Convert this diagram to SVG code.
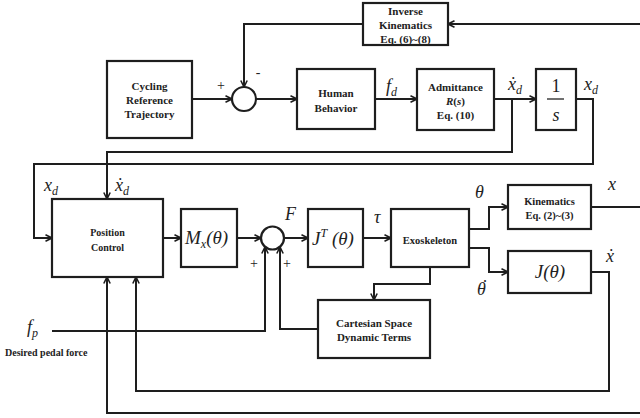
<svg xmlns="http://www.w3.org/2000/svg" width="640" height="418" viewBox="0 0 640 418">
<style>
.box{fill:#fff;stroke:#1e1e1e;stroke-width:2.2}
.ln{fill:none;stroke:#1e1e1e;stroke-width:2}
.bt{font-family:"Liberation Serif","DejaVu Serif",serif;font-weight:bold;font-size:11px;fill:#222;text-anchor:middle}
.sm{font-size:10px}
.m{font-family:"Liberation Serif","DejaVu Serif",serif;font-style:italic;font-size:18px;fill:#222}
.sub{font-size:12px}
.pl{font-family:"Liberation Serif","DejaVu Serif",serif;font-size:14px;fill:#222;text-anchor:middle}
</style>
<defs>
<marker id="ar" viewBox="0 0 8 8" refX="7.5" refY="4" markerWidth="8" markerHeight="8" markerUnits="userSpaceOnUse" orient="auto">
<path d="M1,0.8 L7.5,4 L1,7.2" fill="none" stroke="#1e1e1e" stroke-width="1.6"/>
</marker>
</defs>
<rect width="640" height="418" fill="#fff"/>

<g id="connectors">
<path class="ln" d="M192,99 H232" marker-end="url(#ar)"/>
<path class="ln" d="M363,24 H244 V87" marker-end="url(#ar)"/>
<path class="ln" d="M640,24 H448" marker-end="url(#ar)"/>
<path class="ln" d="M256,99 H297" marker-end="url(#ar)"/>
<path class="ln" d="M375,99 H417" marker-end="url(#ar)"/>
<path class="ln" d="M494,99 H536" marker-end="url(#ar)"/>
<path class="ln" d="M512,99 V152 H107 V199" marker-end="url(#ar)"/>
<path class="ln" d="M576,99 H593 V164 H34 V238 H52" marker-end="url(#ar)"/>
<path class="ln" d="M163,238 H181" marker-end="url(#ar)"/>
<path class="ln" d="M237,238 H261" marker-end="url(#ar)"/>
<path class="ln" d="M284,238 H308" marker-end="url(#ar)"/>
<path class="ln" d="M363,238 H391" marker-end="url(#ar)"/>
<path class="ln" d="M469,229 H489 V207 H508" marker-end="url(#ar)"/>
<path class="ln" d="M469,248 H489 V272 H508" marker-end="url(#ar)"/>
<path class="ln" d="M591,207 H640"/>
<path class="ln" d="M591,272 H609 V391 H136 V277" marker-end="url(#ar)"/>
<path class="ln" d="M640,413 H107 V277" marker-end="url(#ar)"/>
<path class="ln" d="M430,267 V284 H374 V300" marker-end="url(#ar)"/>
<path class="ln" d="M318,329 H280 V247" marker-end="url(#ar)"/>
<path class="ln" d="M52,331 H265 V247" marker-end="url(#ar)"/>
</g>

<g id="cycling">
<rect class="box" x="107" y="61" width="85" height="77"/>
<text class="bt" x="149.5" y="90">Cycling</text>
<text class="bt" x="149.5" y="104">Reference</text>
<text class="bt" x="149.5" y="118">Trajectory</text>
</g>

<g id="sum1">
<circle class="box" cx="244" cy="99" r="12"/>
<text class="pl" x="221" y="90">+</text>
<text class="pl" x="258" y="77">-</text>
</g>

<g id="inverse-kinematics">
<rect class="box" x="363" y="3" width="85" height="42"/>
<text class="bt" x="405.5" y="15">Inverse</text>
<text class="bt" x="405.5" y="29">Kinematics</text>
<text class="bt" x="405.5" y="43">Eq. (6)~(8)</text>
</g>

<g id="human">
<rect class="box" x="297" y="69" width="78" height="60"/>
<text class="bt" x="336" y="97">Human</text>
<text class="bt" x="336" y="112">Behavior</text>
</g>

<g id="admittance">
<rect class="box" x="417" y="69" width="77" height="61"/>
<text class="bt" x="455.5" y="91">Admittance</text>
<text class="bt" x="455.5" y="105"><tspan font-style="italic">R</tspan>(<tspan font-style="italic">s</tspan>)</text>
<text class="bt" x="455.5" y="119">Eq. (10)</text>
</g>

<g id="integrator">
<rect class="box" x="536" y="69" width="40" height="61"/>
<text class="m" x="556" y="92" style="font-style:normal;text-anchor:middle">1</text>
<line x1="547" y1="99" x2="564" y2="99" stroke="#222" stroke-width="1.3"/>
<text class="m" x="556" y="121" style="text-anchor:middle">s</text>
</g>

<g id="position-control">
<rect class="box" x="52" y="199" width="111" height="78"/>
<text class="bt sm" x="107.5" y="236">Position</text>
<text class="bt sm" x="107.5" y="251">Control</text>
</g>

<g id="mx">
<rect class="box" x="181" y="209" width="56" height="58"/>
<text class="m" x="185" y="244" style="font-size:19px">M<tspan class="sub" dy="4">x</tspan><tspan dy="-4">(θ)</tspan></text>
</g>

<g id="sum2">
<circle class="box" cx="272.5" cy="238" r="11.5"/>
<text class="pl" x="254" y="268">+</text>
<text class="pl" x="287" y="268">+</text>
</g>

<g id="jt">
<rect class="box" x="308" y="209" width="55" height="58"/>
<text class="m" x="312" y="245" style="font-size:19px">J<tspan class="sub" dy="-8">T</tspan><tspan dy="8"> (θ)</tspan></text>
</g>

<g id="exoskeleton">
<rect class="box" x="391" y="209" width="78" height="58"/>
<text class="bt" x="430" y="244" style="font-size:10.5px">Exoskeleton</text>
</g>

<g id="kinematics">
<rect class="box" x="508" y="185" width="83" height="44"/>
<text class="bt" x="549.5" y="205" style="font-size:10.5px">Kinematics</text>
<text class="bt" x="549.5" y="219" style="font-size:10.5px">Eq. (2)~(3)</text>
</g>

<g id="jacobian">
<rect class="box" x="508" y="251" width="83" height="42"/>
<text class="m" x="550" y="278" style="font-size:19px;text-anchor:middle">J(θ)</text>
</g>

<g id="cartesian">
<rect class="box" x="318" y="300" width="112" height="58"/>
<text class="bt" x="374" y="327">Cartesian Space</text>
<text class="bt" x="374" y="341">Dynamic Terms</text>
</g>

<g id="labels">
<text class="m" x="386" y="92">f<tspan class="sub" dy="4">d</tspan></text>
<text class="m" x="508" y="90">ẋ<tspan class="sub" dy="4">d</tspan></text>
<text class="m" x="584" y="90">x<tspan class="sub" dy="4">d</tspan></text>
<text class="m" x="44" y="191">x<tspan class="sub" dy="4">d</tspan></text>
<text class="m" x="115" y="191">ẋ<tspan class="sub" dy="4">d</tspan></text>
<text class="m" x="285" y="220">F</text>
<text class="m" x="374" y="223">τ</text>
<text class="m" x="475" y="198">θ</text>
<text class="m" x="608" y="190">x</text>
<text class="m" x="477" y="295">θ</text>
<text class="m" x="485" y="293" style="font-style:normal;text-anchor:middle">˙</text>
<text class="m" x="606" y="262">ẋ</text>
<text class="m" x="27" y="333">f<tspan class="sub" dy="4">p</tspan></text>
<text class="bt sm" x="5" y="356" style="text-anchor:start">Desired pedal force</text>
</g>
</svg>
